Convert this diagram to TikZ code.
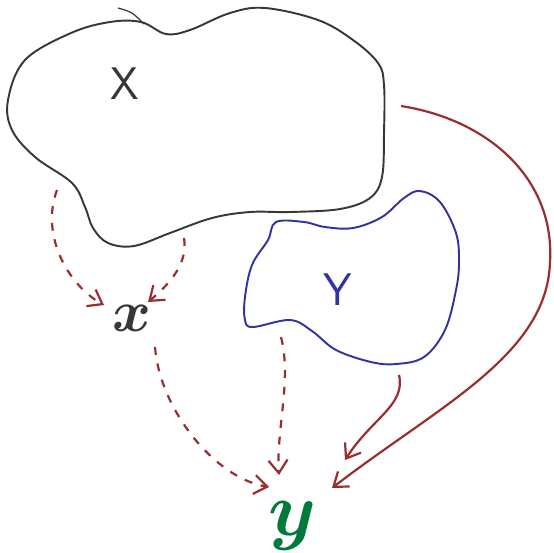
\documentclass[tikz,border=0pt]{standalone}
\usepackage{tikz}
\usetikzlibrary{arrows.meta}
\definecolor{sketchred}{RGB}{152,46,46}
\definecolor{sketchblue}{RGB}{50,50,160}
\definecolor{sketchgray}{RGB}{55,55,55}
\definecolor{sketchgreen}{RGB}{0,122,58}

\begin{document}
\begin{tikzpicture}[
  x=0.02cm, y=-0.02cm, >={Straight Barb[length=2.6mm,width=3.8mm]},
  blob/.style={line width=1.1pt},
  lbl/.style={inner sep=1pt},
  dep/.style={draw=sketchred, line width=1.25pt, ->},
  latent/.style={dep, dash pattern=on 4.5pt off 5pt}
]
\useasboundingbox (0,0) rectangle (554,552);
% sets
\draw[blob, sketchgray] plot[smooth cycle, tension=0.6] coordinates {
  (141,22) (166,34) (190,30) (230,13) (265,8) (318,20) (353,40) (378,63)
  (384,85) (384,133) (382,177) (370,198) (340,209) (290,212) (250,212)
  (212,218) (170,233) (134,246) (108,243) (93,228) (85,207) (72,183)
  (35,157) (12,130) (8,100) (25,60) (71,33) (110,22)};
\draw[sketchgray, line width=0.7pt] (118,8) .. controls (132,12) .. (144,24);
\draw[blob, sketchblue] plot[smooth cycle, tension=0.6] coordinates {
  (304,222) (276,222) (268,240) (252,265) (245,297) (245,320) (253,327)
  (290,320) (312,331) (336,350) (371,362) (396,364) (424,357) (445,330)
  (456,290) (459,262) (456,233) (440,202) (420,191) (404,198) (382,217)
  (353,228) (325,227)};
\node[lbl, sketchgray, font=\fontsize{26}{26}\selectfont\sffamily] (X) at (125,84) {X};
\node[lbl, sketchblue, font=\fontsize{26}{26}\selectfont\sffamily] (Y) at (338,290) {Y};
% variables
\node[lbl, sketchgray, font=\fontsize{24}{24}\selectfont\boldmath] (x) at (132,318) {\scalebox{1.35}{$x$}};
\node[lbl, sketchgreen, font=\fontsize{24}{24}\selectfont\boldmath] (y) at (292,526) {\scalebox{1.75}{$y$}};
% arrow ends
\coordinate (Xa) at (57,190);
\coordinate (Xb) at (184,238);
\coordinate (Xc) at (401,106);
\coordinate (Ya) at (281,337);
\coordinate (Yb) at (399,375);
\coordinate (x-in1) at ([shift={(-28,-13)}]x);
\coordinate (x-in2) at ([shift={(16,-16)}]x);
\coordinate (x-out) at ([shift={(23,29)}]x);
\coordinate (y-in1) at ([shift={(-23,-39)}]y);
\coordinate (y-in2) at ([shift={(-13,-51)}]y);
\coordinate (y-in3) at ([shift={(53,-66)}]y);
\coordinate (y-in4) at ([shift={(40,-38)}]y);
% dependencies
\draw[latent] (Xa) .. controls (40,235) and (68,285) .. (x-in1);
\draw[latent] (Xb) .. controls (188,262) and (172,282) .. (x-in2);
\draw[latent] (x-out) .. controls (160,410) and (215,478) .. (y-in1);
\draw[latent] (Ya) .. controls (292,380) and (276,430) .. (y-in2);
\draw[dep] (Yb) .. controls (406,405) and (372,418) .. (y-in3);
\draw[dep] (Xc) .. controls (490,120) and (555,180) .. (550,262)
  .. controls (547,355) and (440,405) .. (y-in4);
\end{tikzpicture}
\end{document}
